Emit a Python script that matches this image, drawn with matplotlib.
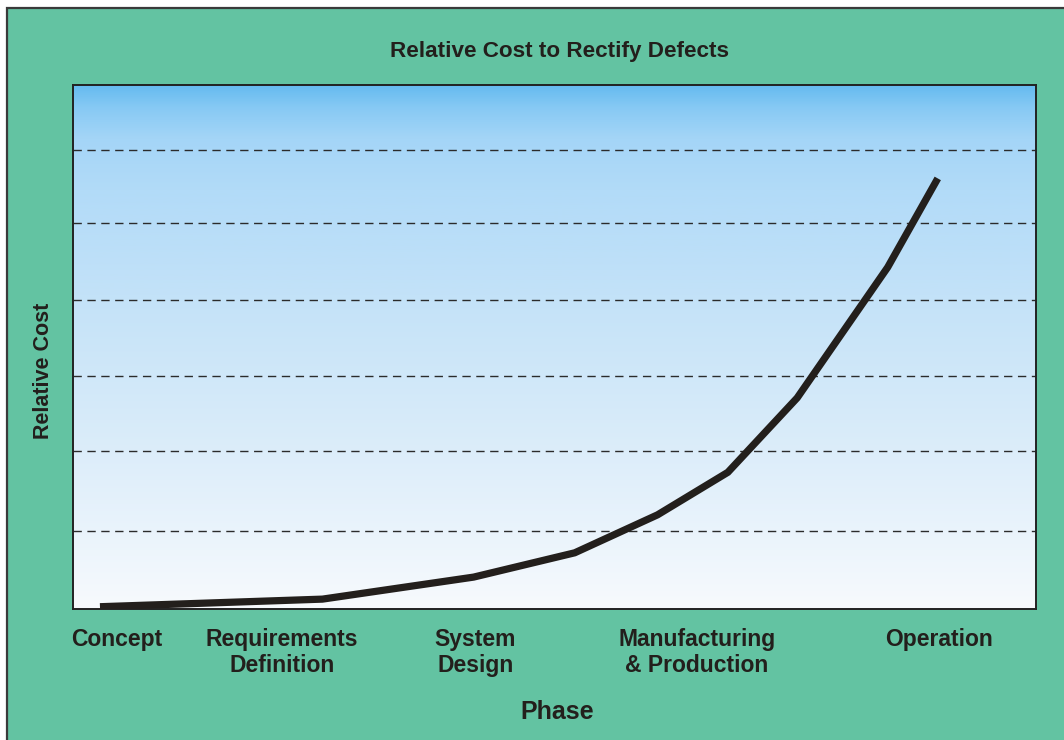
import numpy as np
import matplotlib
matplotlib.use("Agg")
import matplotlib.pyplot as plt
from matplotlib.colors import LinearSegmentedColormap
from matplotlib.patches import Rectangle

plt.rcParams["font.family"] = ["Liberation Sans", "DejaVu Sans"]

# cost curve, phase position on a 0-100 scale
phase_x = [2.8, 25.9, 41.6, 52.1, 60.7, 68.0, 75.2, 84.6, 89.8]
relative_cost = [0.03, 0.13, 0.42, 0.74, 1.24, 1.80, 2.78, 4.50, 5.67]

phase_labels = ["Concept", "Requirements\nDefinition", "System\nDesign",
                "Manufacturing\n& Production", "Operation"]
phase_ticks = [4.5, 21.7, 41.8, 64.8, 89.9]

grid_levels = [1.03, 2.08, 3.07, 4.07, 5.08, 6.04]
y_top = 6.9

green = "#63c3a2"
ink = "#231f1c"

fig = plt.figure(figsize=(10.64, 7.4), dpi=100)
fig.patch.set_facecolor("white")

# green panel with dark outline, running off the right/bottom edges
panel = Rectangle((7 / 1064, -0.05), 1.1, 1 - 8 / 740 + 0.05,
                  transform=fig.transFigure, facecolor=green,
                  edgecolor="#3a3a3a", linewidth=1.6, zorder=-10)
fig.patches.append(panel)

ax = fig.add_axes([73 / 1064, 131 / 740, 963 / 1064, 524 / 740])
ax.set_xlim(0, 100)
ax.set_ylim(0, y_top)

# blue-to-white vertical gradient behind the plot
sky = LinearSegmentedColormap.from_list("sky", [
    (0.0, "#f7fafd"),
    (0.3, "#dcedfa"),
    (0.6, "#c3e2f8"),
    (0.8, "#b2dbf8"),
    (0.9, "#a4d5f7"),
    (0.96, "#86c9f4"),
    (1.0, "#66bbf0"),
])
grad = np.linspace(0, 1, 256).reshape(-1, 1)
ax.imshow(grad, cmap=sky, origin="lower", aspect="auto",
          extent=[0, 100, 0, y_top], zorder=0)

for lvl in grid_levels:
    ax.axhline(lvl, color="#2b2b2b", linewidth=1.0, dashes=(6, 4), zorder=1)

ax.plot(phase_x, relative_cost, color=ink, linewidth=5.2,
        solid_capstyle="butt", solid_joinstyle="miter", zorder=3)

for side in ax.spines.values():
    side.set_color("#222222")
    side.set_linewidth(1.4)

ax.set_yticks([])
ax.set_xticks(phase_ticks)
ax.set_xticklabels(phase_labels, fontsize=16.5, fontweight="bold",
                   color=ink, linespacing=1.12)
ax.tick_params(axis="x", length=0, pad=14)

ax.set_xlabel("Phase", fontsize=18, fontweight="bold", color=ink)
ax.xaxis.set_label_coords((557 - 73) / 963, -(700 - 609) / 524)
ax.set_ylabel("Relative Cost", fontsize=15.5, fontweight="bold", color=ink)
ax.yaxis.set_label_coords(-(73 - 54) / 963, (609 - 371) / 524)

fig.text(560 / 1064, 1 - 51 / 740, "Relative Cost to Rectify Defects",
         ha="center", va="center", fontsize=16.2, fontweight="bold", color=ink)

fig.savefig("out.png", dpi=100)
